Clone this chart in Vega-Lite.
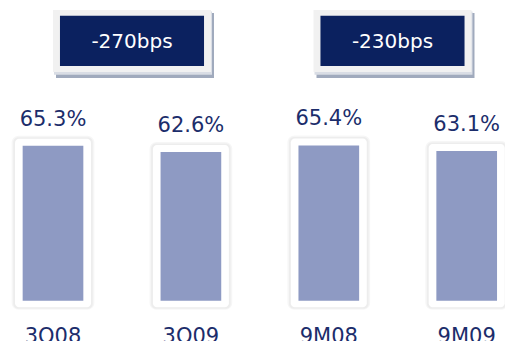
{
  "$schema": "https://vega.github.io/schema/vega-lite/v6.json",
  "autosize": "none",
  "width": 505,
  "height": 341,
  "padding": 0,
  "background": "white",
  "config": {"view": {"stroke": null}},
  "datasets": {
    "bars": [
      {"period": "3Q08", "ratio": 65.3, "label": "65.3%"},
      {"period": "3Q09", "ratio": 62.6, "label": "62.6%"},
      {"period": "9M08", "ratio": 65.4, "label": "65.4%"},
      {"period": "9M09", "ratio": 63.1, "label": "63.1%"}
    ],
    "boxes": [
      {"group": "3Q", "change": "-270bps"},
      {"group": "9M", "change": "-230bps"}
    ]
  },
  "resolve": {"scale": {"x": "independent"}},
  "layer": [
    {
      "data": {"name": "bars"},
      "layer": [
        {
          "mark": {"type": "bar", "color": "#000000", "opacity": 0.035, "width": {"band": 0.6}, "cornerRadius": 7, "yOffset": -10, "y2Offset": 9}
        },
        {
          "mark": {"type": "bar", "color": "#000000", "opacity": 0.035, "width": {"band": 0.578}, "cornerRadius": 5, "yOffset": -8.5, "y2Offset": 8}
        },
        {
          "mark": {"type": "bar", "color": "#ffffff", "width": {"band": 0.551}, "cornerRadius": 4, "yOffset": -7, "y2Offset": 6.5}
        },
        {
          "mark": {"type": "bar", "color": "#8e9ac3", "width": {"band": 0.44}}
        },
        {
          "mark": {"type": "text", "color": "#1c2d6b", "font": "DejaVu Sans", "fontSize": 21, "baseline": "alphabetic", "dy": -20},
          "encoding": {"text": {"field": "label"}}
        },
        {
          "mark": {"type": "text", "color": "#1c2d6b", "font": "DejaVu Sans", "fontSize": 21, "baseline": "alphabetic", "dy": 42},
          "encoding": {"text": {"field": "period"}, "y": {"datum": 0}}
        }
      ],
      "encoding": {
        "x": {"field": "period", "type": "nominal", "axis": null, "sort": null,
              "scale": {"type": "band", "range": [-15.95, 535.65], "paddingInner": 0, "paddingOuter": 0}},
        "y": {"field": "ratio", "type": "quantitative", "axis": null,
              "scale": {"domain": [0, 100], "range": [300.7, 63.3], "zero": true, "nice": false}},
        "y2": {"datum": 0}
      }
    },
    {
      "data": {"name": "boxes"},
      "encoding": {
        "x": {"field": "group", "type": "nominal", "axis": null, "sort": null,
              "scale": {"type": "band", "range": [1.75, 522.75], "paddingInner": 0, "paddingOuter": 0}}
      },
      "layer": [
        {
          "mark": {"type": "bar", "color": "#a0aabd", "width": {"band": 0.6065}, "xOffset": 3},
          "encoding": {"y": {"datum": 121.2, "type": "quantitative"}, "y2": {"datum": 93.8}}
        },
        {
          "mark": {"type": "bar", "color": "#d9dde5", "width": {"band": 0.6065}, "xOffset": 1},
          "encoding": {"y": {"datum": 121.8, "type": "quantitative"}, "y2": {"datum": 95.2}}
        },
        {
          "mark": {"type": "bar", "color": "#f1f1f1", "width": {"band": 0.6065}},
          "encoding": {"y": {"datum": 122.5, "type": "quantitative"}, "y2": {"datum": 96.3}}
        },
        {
          "mark": {"type": "bar", "color": "#0b215f", "width": {"band": 0.553}},
          "encoding": {"y": {"datum": 120.0, "type": "quantitative"}, "y2": {"datum": 98.9}}
        },
        {
          "mark": {"type": "text", "color": "#ffffff", "font": "DejaVu Sans", "fontSize": 20, "baseline": "alphabetic"},
          "encoding": {"y": {"datum": 106.3, "type": "quantitative"}, "text": {"field": "change"}}
        }
      ]
    }
  ]
}
